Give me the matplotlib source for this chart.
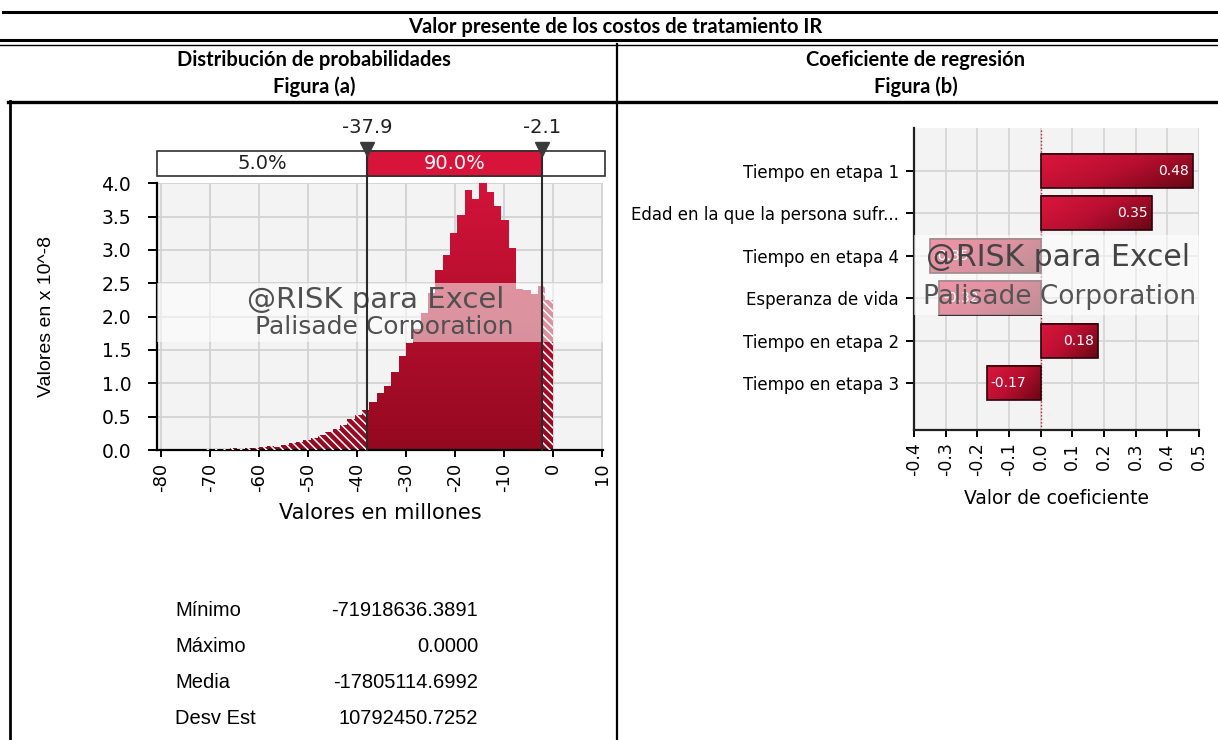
import numpy as np
import matplotlib
matplotlib.use("Agg")
import matplotlib.pyplot as plt
from matplotlib.colors import LinearSegmentedColormap
from matplotlib.patches import Rectangle

# --- data ---
bin_left = -72.0
bin_width = 1.5
# density per bin, in units of 10^-8
density = [0.015, 0.02, 0.02, 0.02, 0.025, 0.02, 0.025, 0.03,
           0.05, 0.06, 0.05, 0.08, 0.10, 0.12, 0.15, 0.175,
           0.22, 0.27, 0.31, 0.37, 0.46, 0.52, 0.60, 0.72,
           0.85, 0.96, 1.17, 1.41, 1.60, 1.82, 2.05, 2.35,
           2.70, 2.92, 3.26, 3.52, 3.90, 3.77, 4.01, 3.87,
           3.66, 3.45, 3.03, 2.42, 2.40, 2.34, 2.46, 2.25]
p_low = -37.9
p_high = -2.1
pct_left = "5.0%"
pct_mid = "90.0%"

stat_names = ["Mínimo", "Máximo", "Media", "Desv Est"]
stat_values = ["-71918636.3891", "0.0000", "-17805114.6992", "10792450.7252"]

reg_labels = ["Tiempo en etapa 1", "Edad en la que la persona sufr...",
              "Tiempo en etapa 4", "Esperanza de vida",
              "Tiempo en etapa 2", "Tiempo en etapa 3"]
reg_coefs = [0.48, 0.35, -0.35, -0.32, 0.18, -0.17]

title = "Valor presente de los costos de tratamiento IR"
sub_left = ["Distribución de probabilidades", "Figura (a)"]
sub_right = ["Coeficiente de regresión", "Figura (b)"]

plt.rcParams["hatch.linewidth"] = 1.1
W, H = 1218, 740


def box(x0, y0, x1, y1):
    # pixel box (top-left origin) -> figure fraction
    return [x0 / W, 1 - y1 / H, (x1 - x0) / W, (y1 - y0) / H]


fig = plt.figure(figsize=(W / 100, H / 100), dpi=100)

# table frame drawn in pixel coordinates
frame = fig.add_axes([0, 0, 1, 1])
frame.set_xlim(0, W)
frame.set_ylim(H, 0)
frame.axis("off")
frame.plot([3, W], [12, 12], color="black", lw=2.2)
frame.plot([0, W], [40, 40], color="black", lw=2.2)
frame.plot([0, W], [44.5, 44.5], color="black", lw=1.0)
frame.plot([8, W], [102, 102], color="black", lw=2.4)
frame.plot([617, 617], [44, H], color="black", lw=1.6)
frame.plot([10, 10], [101, H], color="black", lw=2.0)
hfont = dict(family=["Lato", "DejaVu Sans"], fontweight="bold",
             ha="center", va="center")
frame.text(615, 27, title, fontsize=14.5, **hfont)
frame.text(314, 60, sub_left[0], fontsize=14.5, **hfont)
frame.text(314, 87, sub_left[1], fontsize=14.5, **hfont)
frame.text(916, 60, sub_right[0], fontsize=14.5, **hfont)
frame.text(916, 87, sub_right[1], fontsize=14.5, **hfont)

# stats block
sfont = dict(family=["Liberation Sans Narrow", "Liberation Sans"], fontsize=14.5,
             va="center")
for i, (n, v) in enumerate(zip(stat_names, stat_values)):
    y = 610 + 36 * i
    frame.text(175, y, n, ha="left", **sfont)
    frame.text(478, y, v, ha="right", **sfont)

# ---------------- (a) histogram ----------------
ax = fig.add_axes(box(157, 183.3, 603, 450))
ax.set_facecolor("#f3f3f3")
edges = bin_left + bin_width * np.arange(len(density) + 1)

step = ax.stairs(density, edges, fill=True, facecolor="none",
                 edgecolor="none", zorder=2)
grad = np.linspace(0, 1, 256).reshape(-1, 1)
hist_cmap = LinearSegmentedColormap.from_list("h", ["#940920", "#d4143a"])
img = ax.imshow(grad, extent=(edges[0], edges[-1], 0, 4.1), origin="lower",
                aspect="auto", cmap=hist_cmap, zorder=2)
img.set_clip_path(step)

for lo, hi in [(-200, p_low), (p_high, 200)]:
    hp = ax.stairs(density, edges, fill=True, facecolor="none",
                   edgecolor="white", hatch="\\\\\\\\", linewidth=0, zorder=3)
    hp.set_clip_path(Rectangle((lo, 0), hi - lo, 10, transform=ax.transData))

ax.set_xlim(-80.9, 10.3)
ax.set_ylim(0, 4.0)
ax.set_xticks(np.arange(-80, 11, 10))
ax.set_xticklabels([str(v) for v in range(-80, 11, 10)], rotation=90,
                   family="DejaVu Sans", fontsize=13)
yt = np.arange(0, 4.01, 0.5)
ax.set_yticks(yt)
ax.set_yticklabels([f"{v:.1f}" for v in yt], family="DejaVu Sans", fontsize=13.5)
ax.grid(True, color="#d2d2d2", lw=1.3)
ax.set_axisbelow(True)
for s in ["top", "right"]:
    ax.spines[s].set_visible(False)
for s in ["left", "bottom"]:
    ax.spines[s].set_linewidth(1.6)
ax.tick_params(axis="y", length=6.5, width=1.4, pad=12)
ax.tick_params(axis="x", length=5, width=1.4, pad=4)
ax.set_xlabel("Valores en millones", family="DejaVu Sans", fontsize=15)
ax.xaxis.set_label_coords(0.5, -0.2)
ax.set_ylabel("Valores en x 10^-8", family=["Liberation Sans Narrow", "Liberation Sans"],
              fontsize=14)
ax.yaxis.set_label_coords(-(157 - 55) / 446, 0.5)

# watermark band
ax.axhspan(1.62, 2.5, color="white", alpha=0.55, lw=0, zorder=4)
ax.text(0.49, 0.5625, "@RISK para Excel", transform=ax.transAxes, ha="center",
        va="center", fontsize=21, color="#505050", zorder=6)
ax.text(0.51, 0.461, "Palisade Corporation", transform=ax.transAxes, ha="center",
        va="center", fontsize=18, color="#505050", zorder=6)

# delimiter bar above the plot
x0, x1 = -80.9, 10.7
ax.add_patch(Rectangle((x0, 4.11), x1 - x0, 0.38, facecolor="white",
                       edgecolor="#303030", lw=1.2, clip_on=False, zorder=5))
ax.add_patch(Rectangle((p_low, 4.11), p_high - p_low, 0.38, facecolor="#d8143a",
                       edgecolor="#303030", lw=1.2, clip_on=False, zorder=5))
ax.text((x0 + p_low) / 2, 4.30, pct_left, ha="center", va="center", fontsize=14,
        color="#202020", clip_on=False, zorder=6)
ax.text((p_low + p_high) / 2, 4.30, pct_mid, ha="center", va="center", fontsize=14,
        color="white", clip_on=False, zorder=6)
for v in (p_low, p_high):
    ax.plot([v, v], [0, 4.49], color="#2a2a2a", lw=1.5, clip_on=False, zorder=7)
    ax.text(v, 4.83, f"{v:.1f}", ha="center", va="center", fontsize=14,
            color="#202020", clip_on=False)
ax.plot([p_low, p_high], [4.52, 4.52], ls="none", marker="v", ms=10,
        color="#3a3a3a", clip_on=False, zorder=8)

# ---------------- (b) regression coefficients ----------------
ax2 = fig.add_axes(box(914, 128, 1199, 430))
ax2.set_facecolor("#f3f3f3")
ypos = np.arange(1, len(reg_labels) + 1)
bars = ax2.barh(ypos, reg_coefs, height=0.8, color="none",
                edgecolor="#2a0008", lw=1.2, zorder=4)
bar_cmap = LinearSegmentedColormap.from_list("b", ["#dc163e", "#b80f30", "#6a0615"])
gi, gj = np.mgrid[0:1:40j, 0:1:120j]
diag = 0.35 * gi + 0.65 * gj
for rect in bars:
    xl = min(rect.get_x(), rect.get_x() + rect.get_width())
    xr = max(rect.get_x(), rect.get_x() + rect.get_width())
    yt_ = rect.get_y()
    yb_ = rect.get_y() + rect.get_height()
    ax2.imshow(diag, extent=(xl, xr, yb_, yt_), origin="upper", aspect="auto",
               cmap=bar_cmap, zorder=3)
for y, v in zip(ypos, reg_coefs):
    if v > 0:
        ax2.text(v - 0.012, y, f"{v:.2f}", ha="right", va="center", color="white",
                 fontsize=10, zorder=5)
    else:
        ax2.text(v + 0.012, y, f"{v:.2f}", ha="left", va="center", color="white",
                 fontsize=10, zorder=5)

ax2.set_xlim(-0.4, 0.5)
ax2.set_ylim(7.1, 0)
xt = np.round(np.arange(-0.4, 0.51, 0.1), 1) + 0.0
ax2.set_xticks(xt)
ax2.set_xticklabels([f"{abs(v):.1f}" if abs(v) < 1e-9 else f"{v:.1f}" for v in xt],
                    rotation=90, family="DejaVu Sans", fontsize=12.5)
ax2.set_yticks(ypos)
ax2.set_yticklabels(reg_labels, family="DejaVu Sans", fontsize=12)
ax2.grid(True, color="#d6d6d6", lw=1.3)
ax2.set_axisbelow(True)
ax2.axvline(0, color="#d0143a", ls=(0, (1, 1.5)), lw=1.0, zorder=2)
for s in ["top", "right"]:
    ax2.spines[s].set_visible(False)
for s in ["left", "bottom"]:
    ax2.spines[s].set_linewidth(1.6)
    ax2.spines[s].set_color("#202020")
ax2.tick_params(axis="y", length=6, width=1.4, pad=5)
ax2.tick_params(axis="x", length=5, width=1.4, pad=4)
ax2.set_xlabel("Valor de coeficiente", family="DejaVu Sans", fontsize=13.5)
ax2.xaxis.set_label_coords(0.5, -0.195)

ax2.axhspan(2.515, 4.396, color="white", alpha=0.55, lw=0, zorder=6)
ax2.text(0.507, 0.57, "@RISK para Excel", transform=ax2.transAxes, ha="center",
         va="center", fontsize=21.5, color="#444444", zorder=7)
ax2.text(0.51, 0.44, "Palisade Corporation", transform=ax2.transAxes, ha="center",
         va="center", fontsize=19, color="#555555", zorder=7)

fig.savefig("out.png", dpi=100)
